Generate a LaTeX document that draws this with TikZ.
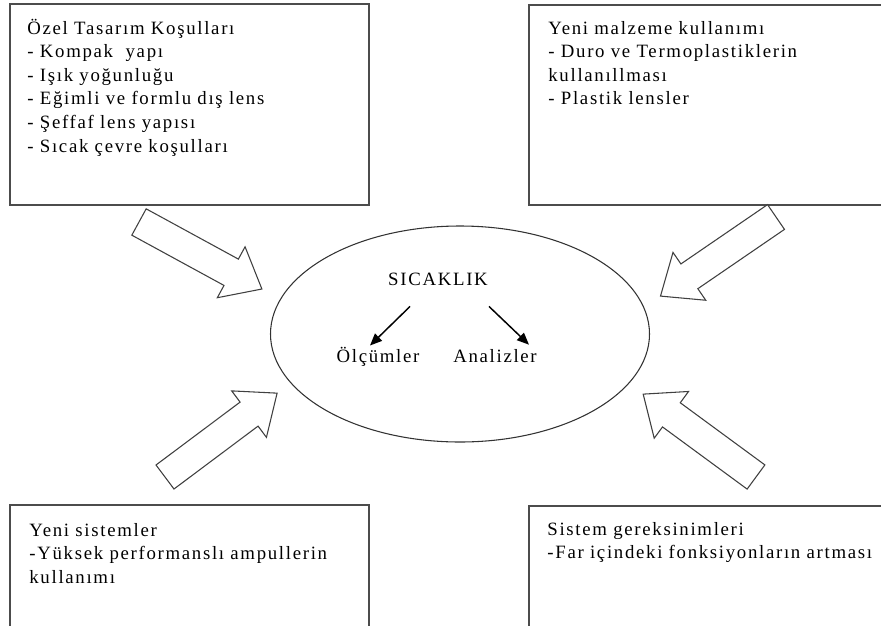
\documentclass[tikz,border=0pt]{standalone}
\usepackage{fontspec}
\setmainfont{Liberation Serif}[LetterSpace=9]
\usetikzlibrary{shapes.geometric,arrows.meta,fit,positioning}

\tikzset{
  kutu/.style={draw=black!70, line width=1.3pt, inner sep=0pt},
  yazi/.style={anchor=base west, inner sep=0pt, text width=255pt, align=left,
    font=\fontsize{14.1}{17.7}\selectfont},
  etiket/.style={anchor=base, inner sep=0pt, font=\fontsize{14.1}{17.7}\selectfont},
  elips/.style={draw=black!80, ellipse, line width=0.8pt, inner sep=0pt,
    minimum width=284.25pt, minimum height=162pt},
  blokok/.style={draw=black!75, fill=white, line width=0.8pt, line join=miter},
  okucu/.style={line width=1.1pt, -{Triangle[length=9pt,width=7.5pt]}}
}

\begin{document}
\begin{tikzpicture}[x=0.75pt, y=-0.75pt]
    \clip (0,0) rectangle (881,625);

    % kutular
    \node[kutu, fit={(10,4) (369,205)}] (tasarim) {};
    \node[kutu, fit={(529,5) (895,205)}] (malzeme) {};
    \node[kutu, fit={(10,505) (369,650)}] (sistem) {};
    \node[kutu, fit={(529,506) (895,650)}] (gereksinim) {};

    \node[yazi] (tasarimyazi) at ([shift={(18,31)}]tasarim.north west)
        {Özel Tasarım Koşulları\\- Kompak~ yapı\\- Işık yoğunluğu\\- Eğimli ve formlu dış lens\\- Şeffaf lens yapısı\\- Sıcak çevre koşulları};
    \node[yazi] (malzemeyazi) at ([shift={(20,30)}]malzeme.north west)
        {Yeni malzeme kullanımı\\- Duro ve Termoplastiklerin\\kullanıllması\\- Plastik lensler};
    \node[yazi] (sistemyazi) at ([shift={(20,32)}]sistem.north west)
        {Yeni sistemler\\-Yüksek performanslı ampullerin\\kullanımı};
    \node[yazi] (gereksinimyazi) at ([shift={(19,30)}]gereksinim.north west)
        {Sistem gereksinimleri\\-Far içindeki fonksiyonların artması};

    % orta
    \node[elips] (merkez) at (460,334) {};
    \node[etiket] (sicaklik) at (438,285) {SICAKLIK};
    \node[etiket] (olcum) at (378,362) {Ölçümler};
    \node[etiket] (analiz) at (495,362) {Analizler};

    \draw[okucu] ([shift={(-28,21)}]sicaklik.south) -- ([shift={(-8,-1)}]olcum.north);
    \draw[okucu] ([shift={(51,21)}]sicaklik.south) -- ([shift={(34,-4)}]analiz.north);

    % blok oklar
    \foreach \x/\y/\a in {139/222/-28.6, 776/217/-145.6, 165/477/36.8, 756/477/143.7}
        \draw[blokok, shift={(\x,\y)}, rotate=\a]
            (0,-15) -- (105,-15) -- (105,-29) -- (140,0) -- (105,29) -- (105,15) -- (0,15) -- cycle;
\end{tikzpicture}
\end{document}
